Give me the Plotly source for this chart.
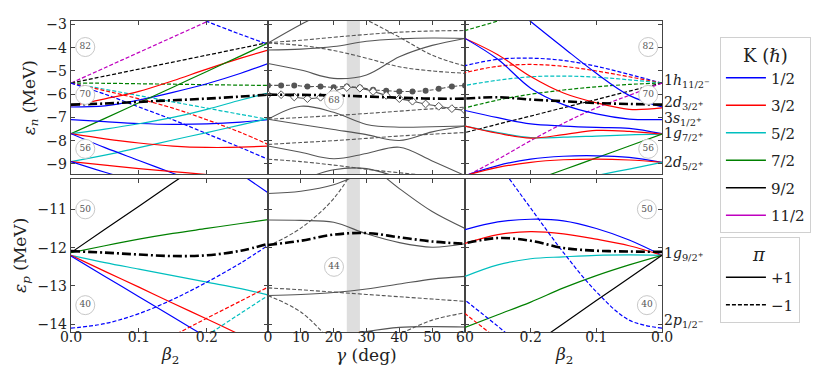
import plotly.graph_objects as go
from plotly.subplots import make_subplots

# sample grids
BETA_L = [0.0, 0.05, 0.10, 0.15, 0.20, 0.25, 0.29]
BETA_R = [0.0, 0.05, 0.10, 0.15, 0.20, 0.25, 0.30]
GAMMA = [0, 10, 20, 30, 40, 50, 60]

K_LABELS = ['1/2', '3/2', '5/2', '7/2', '9/2', '11/2']
K_COLORS = ['#0000ff', '#ff0000', '#00bfbf', '#008000', '#000000', '#bf00bf']
PARITY_LABELS = ['+1', '\u22121']

# neutron levels, prolate side: (K index, parity, energies on BETA_L)
NEUTRON_LEFT = [
    (5, -1, [-5.52, -4.86, -4.20, -3.54, -2.88, -2.22, -1.69]),
    (4, -1, [-5.52, -5.22, -4.92, -4.62, -4.32, -4.02, -3.78]),
    (3, -1, [-5.52, -5.53, -5.55, -5.57, -5.59, -5.61, -5.62]),
    (2, -1, [-5.52, -5.79, -6.06, -6.33, -6.60, -6.87, -7.08]),
    (1, -1, [-5.52, -5.85, -6.20, -6.60, -7.10, -7.65, -8.16]),
    (0, -1, [-5.52, -6.00, -6.55, -7.10, -7.70, -8.30, -8.80]),
    (0, -1, [-0.65, -1.20, -1.75, -2.30, -2.87, -3.43, -3.85]),
    (1, +1, [-6.50, -6.20, -5.88, -5.42, -4.92, -4.45, -4.10]),
    (0, +1, [-6.55, -6.50, -6.25, -5.92, -5.55, -5.10, -4.68]),
    (3, +1, [-7.70, -7.04, -6.37, -5.70, -5.02, -4.35, -3.80]),
    (0, +1, [-7.09, -7.18, -7.26, -7.30, -7.28, -7.20, -7.09]),
    (2, +1, [-7.70, -7.50, -7.27, -7.00, -6.65, -6.25, -5.95]),
    (2, +1, [-8.90, -8.62, -8.30, -7.97, -7.65, -7.32, -7.05]),
    (1, +1, [-7.70, -7.92, -8.10, -8.23, -8.29, -8.28, -8.23]),
    (0, +1, [-7.70, -8.30, -8.85, -9.40, -9.95, -10.5, -10.95]),
    (1, +1, [-8.90, -9.05, -9.20, -9.33, -9.46, -9.60, -9.70]),
    (0, +1, [-8.90, -9.36, -9.77, -10.2, -10.6, -11.0, -11.3]),
]
FERMI_N_LEFT = [-6.45, -6.40, -6.33, -6.26, -6.19, -6.10, -6.02]

# neutron levels, oblate side (energies on BETA_R)
NEUTRON_RIGHT = [
    (0, -1, [-5.52, -5.15, -4.80, -4.55, -4.45, -4.50, -4.77]),
    (1, -1, [-5.52, -5.25, -5.00, -4.80, -4.72, -4.80, -5.07]),
    (2, -1, [-5.52, -5.38, -5.27, -5.22, -5.25, -5.40, -5.62]),
    (3, -1, [-5.52, -5.58, -5.68, -5.82, -6.00, -6.25, -6.59]),
    (4, -1, [-5.52, -5.87, -6.23, -6.58, -6.94, -7.29, -7.65]),
    (5, -1, [-5.52, -6.05, -6.59, -7.25, -8.00, -8.80, -9.55]),
    (3, -1, [-0.50, -0.90, -1.40, -1.90, -2.40, -2.85, -3.26]),
    (0, +1, [-6.55, -6.05, -5.10, -4.00, -2.87, -1.70, -0.50]),
    (1, +1, [-6.59, -6.65, -6.37, -5.95, -5.24, -4.30, -3.60]),
    (0, +1, [-7.09, -7.07, -6.85, -6.45, -5.74, -4.50, -3.60]),
    (0, +1, [-7.70, -7.47, -7.43, -7.37, -7.28, -7.01, -6.70]),
    (2, +1, [-7.72, -7.75, -7.80, -7.85, -7.87, -7.65, -7.37]),
    (1, +1, [-7.72, -7.60, -7.56, -7.74, -7.89, -7.68, -7.37]),
    (3, +1, [-7.72, -8.23, -8.74, -9.25, -9.76, -10.27, -10.78]),
    (0, +1, [-8.93, -8.72, -8.65, -8.67, -8.79, -9.07, -9.50]),
    (1, +1, [-8.93, -8.83, -8.79, -8.82, -8.93, -9.15, -9.50]),
    (2, +1, [-8.93, -9.22, -9.50, -9.80, -10.1, -10.4, -10.7]),
]
FERMI_N_RIGHT = [-6.45, -6.42, -6.38, -6.30, -6.23, -6.13, -6.19]

# neutron levels along gamma: (parity, energies on GAMMA)
NEUTRON_GAMMA = [
    (+1, [-3.80, -3.00, -2.30, -1.60, -1.00, -0.50, 0.00]),
    (-1, [-0.60, -1.30, -2.05, -2.80, -3.54, -4.32, -4.79]),
    (-1, [-3.80, -3.90, -4.12, -4.45, -4.82, -5.00, -5.10]),
    (-1, [-3.78, -3.68, -3.55, -3.43, -3.33, -3.28, -3.26]),
    (+1, [-4.10, -4.06, -3.95, -3.72, -3.62, -3.58, -3.60]),
    (+1, [-4.68, -4.96, -5.32, -5.17, -4.39, -3.90, -3.60]),
    (+1, [-7.08, -6.52, -6.78, -7.30, -7.42, -7.40, -7.37]),
    (-1, [-7.08, -7.00, -6.92, -6.83, -6.73, -6.63, -6.56]),
    (+1, [-7.08, -7.30, -7.52, -7.74, -7.99, -7.62, -7.37]),
    (+1, [-8.23, -8.50, -8.78, -8.55, -8.28, -8.87, -9.50]),
    (-1, [-8.16, -8.08, -8.00, -7.90, -7.80, -7.72, -7.65]),
    (-1, [-8.80, -8.90, -9.05, -9.23, -9.38, -9.52, -9.65]),
    (+1, [-10.3, -9.70, -9.25, -9.20, -9.60, -10.0, -10.4]),
]
FERMI_N_GAMMA = [-6.02, -6.03, -6.05, -6.10, -6.15, -6.19, -6.19]

# tracked levels with markers
MARK_GAMMA = [0, 4, 8, 12, 16, 20, 24, 28, 32, 36, 40, 44, 48, 52, 56, 60]
DOTS_N = [-5.62, -5.62, -5.62, -5.67, -5.67, -5.70, -5.67, -5.71, -5.81,
          -5.85, -5.88, -5.88, -5.85, -5.77, -5.67, -5.62]
DIAMONDS_N = [-6.02, -6.02, -6.12, -6.19, -6.13, -5.88, -5.71, -5.74, -5.88,
              -6.05, -6.19, -6.30, -6.42, -6.52, -6.62, -6.70]

# proton levels
PROTON_LEFT = [
    (4, +1, [-12.13, -11.52, -10.92, -10.31, -9.71, -9.10, -8.62]),
    (3, +1, [-12.13, -11.95, -11.78, -11.63, -11.50, -11.37, -11.27]),
    (2, +1, [-12.20, -12.39, -12.56, -12.73, -12.90, -13.07, -13.23]),
    (1, +1, [-12.20, -12.62, -13.03, -13.45, -13.86, -14.28, -14.61]),
    (0, +1, [-12.22, -12.75, -13.28, -13.81, -14.34, -14.87, -15.30]),
    (0, -1, [-14.10, -13.98, -13.72, -13.35, -12.90, -12.40, -11.94]),
    (1, -1, [-15.70, -15.20, -14.76, -14.30, -13.84, -13.39, -13.03]),
    (2, -1, [-16.60, -16.00, -15.45, -14.87, -14.29, -13.71, -13.25]),
    (0, +1, [-7.00, -7.60, -8.20, -8.85, -9.46, -10.08, -10.57]),
]
FERMI_P_LEFT = [-12.09, -12.13, -12.18, -12.22, -12.20, -12.08, -11.90]

PROTON_GAMMA = [
    (+1, [-10.59, -10.53, -10.36, -10.00, -9.60, -9.20, -8.80]),
    (-1, [-11.96, -11.49, -10.72, -9.40, -8.00, -6.60, -5.20]),
    (+1, [-11.28, -11.29, -11.34, -11.64, -11.87, -11.99, -11.90]),
    (+1, [-8.50, -9.00, -9.40, -9.80, -10.46, -11.06, -11.50]),
    (+1, [-13.25, -13.22, -13.17, -13.08, -12.95, -12.82, -12.75]),
    (-1, [-13.05, -13.10, -13.16, -13.22, -13.28, -13.34, -13.40]),
    (-1, [-13.25, -13.68, -14.50, -15.30, -16.10, -16.90, -17.70]),
    (+1, [-14.60, -14.50, -14.35, -14.19, -14.08, -14.06, -14.07]),
    (-1, [-15.60, -15.30, -14.90, -14.60, -14.25, -13.89, -13.70]),
]
FERMI_P_GAMMA = [-11.93, -11.82, -11.66, -11.62, -11.73, -11.84, -11.90]

PROTON_RIGHT = [
    (0, +1, [-12.20, -11.80, -11.50, -11.30, -11.26, -11.33, -11.53]),
    (1, +1, [-12.20, -11.95, -11.78, -11.64, -11.58, -11.66, -11.89]),
    (2, +1, [-12.20, -12.19, -12.20, -12.24, -12.29, -12.45, -12.75]),
    (3, +1, [-12.20, -12.45, -12.73, -13.05, -13.42, -13.75, -14.08]),
    (4, +1, [-12.20, -12.79, -13.38, -13.98, -14.57, -15.16, -15.75]),
    (0, -1, [-14.10, -13.89, -13.15, -12.13, -10.97, -9.80, -8.70]),
    (0, -1, [-17.70, -17.00, -16.30, -15.50, -14.77, -14.05, -13.37]),
    (1, -1, [-17.70, -17.10, -16.40, -15.70, -15.06, -14.39, -13.72]),
]
FERMI_P_RIGHT = [-12.11, -12.10, -12.08, -12.01, -11.82, -11.75, -11.89]

# shell gaps (circled numbers)
GAP_N = ['82', '70', '56']
GAP_N_E = [-3.97, -6.03, -8.35]
GAP_P = ['50', '40']
GAP_P_E = [-11.0, -13.5]
GAP_MID = ['68', '44']
GAP_MID_E = [-6.26, -12.5]

# spherical orbitals on the right edge
ORBIT_N = ['1<i>h</i><sub>11/2<sup>\u2212</sup></sub>', '2<i>d</i><sub>3/2<sup>+</sup></sub>',
           '3<i>s</i><sub>1/2<sup>+</sup></sub>', '1<i>g</i><sub>7/2<sup>+</sup></sub>',
           '2<i>d</i><sub>5/2<sup>+</sup></sub>']
ORBIT_N_E = [-5.45, -6.38, -7.05, -7.73, -8.95]
ORBIT_P = ['1<i>g</i><sub>9/2<sup>+</sup></sub>', '2<i>p</i><sub>1/2<sup>\u2212</sup></sub>']
ORBIT_P_E = [-12.17, -13.92]

X_TITLES = ['<i>\u03b2</i><sub>2</sub>', '<i>\u03b3</i> (deg)', '<i>\u03b2</i><sub>2</sub>']

FONT = 'DejaVu Serif'
GREY = '#555555'
DASH = '4px,2px'

fig = make_subplots(rows=2, cols=3, horizontal_spacing=0, vertical_spacing=0.0136)


def add_levels(levels, xs, row, col):
    for k, par, ys in levels:
        fig.add_trace(go.Scatter(
            x=xs, y=ys, mode='lines', showlegend=False, hoverinfo='skip',
            line=dict(color=K_COLORS[k], width=1.2, shape='spline',
                      dash='solid' if par > 0 else DASH)), row=row, col=col)


def add_grey(levels, row, col):
    for par, ys in levels:
        fig.add_trace(go.Scatter(
            x=GAMMA, y=ys, mode='lines', showlegend=False, hoverinfo='skip',
            line=dict(color=GREY, width=1.1, shape='spline',
                      dash='solid' if par > 0 else DASH)), row=row, col=col)


def add_fermi(xs, ys, row, col):
    fig.add_trace(go.Scatter(
        x=xs, y=ys, mode='lines', showlegend=False, hoverinfo='skip',
        line=dict(color='black', width=2.6, shape='spline', dash='9px,3px,2px,3px')),
        row=row, col=col)


add_levels(NEUTRON_LEFT, BETA_L, 1, 1)
add_levels(NEUTRON_RIGHT, BETA_R, 1, 3)
add_grey(NEUTRON_GAMMA, 1, 2)
add_levels(PROTON_LEFT, BETA_L, 2, 1)
add_levels(PROTON_RIGHT, BETA_R, 2, 3)
add_grey(PROTON_GAMMA, 2, 2)

# tracked levels
fig.add_trace(go.Scatter(
    x=MARK_GAMMA, y=DOTS_N, mode='lines+markers', showlegend=False, hoverinfo='skip',
    line=dict(color=GREY, width=1.1, dash=DASH, shape='spline'),
    marker=dict(symbol='circle', size=6, color=GREY)), row=1, col=2)
fig.add_trace(go.Scatter(
    x=MARK_GAMMA, y=DIAMONDS_N, mode='lines+markers', showlegend=False, hoverinfo='skip',
    line=dict(color=GREY, width=1.1, shape='spline'),
    marker=dict(symbol='diamond', size=6, color='white', line=dict(color=GREY, width=1))),
    row=1, col=2)

add_fermi(BETA_L, FERMI_N_LEFT, 1, 1)
add_fermi(GAMMA, FERMI_N_GAMMA, 1, 2)
add_fermi(BETA_R, FERMI_N_RIGHT, 1, 3)
add_fermi(BETA_L, FERMI_P_LEFT, 2, 1)
add_fermi(GAMMA, FERMI_P_GAMMA, 2, 2)
add_fermi(BETA_R, FERMI_P_RIGHT, 2, 3)


def add_gaps(xpos, labels, energies, row, col):
    fig.add_trace(go.Scatter(
        x=[xpos] * len(labels), y=energies, mode='markers+text', text=labels,
        textposition='middle center', showlegend=False, hoverinfo='skip',
        textfont=dict(family=FONT, size=9, color='#555555'),
        marker=dict(symbol='circle', size=19, color='white',
                    line=dict(color='#c8c8c8', width=1))), row=row, col=col)


add_gaps(0.021, GAP_N, GAP_N_E, 1, 1)
add_gaps(0.021, GAP_N, GAP_N_E, 1, 3)
add_gaps(0.021, GAP_P, GAP_P_E, 2, 1)
add_gaps(0.023, GAP_P, GAP_P_E, 2, 3)
add_gaps(20.1, GAP_MID[:1], GAP_MID_E[:1], 1, 2)
add_gaps(20.1, GAP_MID[1:], GAP_MID_E[1:], 2, 2)

# legend entries (one group each, so tracegroupgap spaces them out)
for lab, col in zip(K_LABELS, K_COLORS):
    fig.add_trace(go.Scatter(x=[None], y=[None], mode='lines', name=lab, legendgroup=lab,
                             line=dict(color=col, width=1.5), legend='legend'),
                  row=1, col=1)
for lab, dash in zip(PARITY_LABELS, ['solid', DASH]):
    fig.add_trace(go.Scatter(x=[None], y=[None], mode='lines', name=lab, legendgroup='p' + lab,
                             line=dict(color='black', width=1.5, dash=dash),
                             legend='legend2'), row=1, col=1)

# gamma band behind the middle panels
for yref in ('y2 domain', 'y5 domain'):
    fig.add_shape(type='rect', xref=yref.replace('y', 'x').replace(' domain', ''),
                  yref=yref, x0=24, x1=28, y0=0, y1=1, fillcolor='#dedede',
                  line_width=0, layer='below')

axis_style = dict(showline=True, linecolor='#444444', linewidth=1.4, mirror='ticks',
                  ticks='inside', ticklen=4, tickcolor='#444444', showgrid=False,
                  zeroline=False, tickfont=dict(family=FONT, size=14, color='#222222'))

for i in range(1, 7):
    fig.update_xaxes(axis_style, row=(i - 1) // 3 + 1, col=(i - 1) % 3 + 1)
    fig.update_yaxes(axis_style, row=(i - 1) // 3 + 1, col=(i - 1) % 3 + 1)

for row in (1, 2):
    fig.update_xaxes(range=[0, 0.29], tickvals=[0, 0.1, 0.2], tickformat='.1f', row=row, col=1)
    fig.update_xaxes(range=[0, 60], tickvals=GAMMA, row=row, col=2)
    fig.update_xaxes(range=[0.30, 0], tickvals=[0.2, 0.1, 0], tickformat='.1f', row=row, col=3)
    for col in (1, 2, 3):
        fig.update_xaxes(showticklabels=(row == 2), ticklabelstandoff=-8, row=row, col=col)
        fig.update_yaxes(showticklabels=(col == 1), row=row, col=col)
        if row == 1:
            fig.update_yaxes(range=[-9.45, -2.85], tickvals=[-9, -8, -7, -6, -5, -4, -3],
                             row=row, col=col)
        else:
            fig.update_yaxes(range=[-14.2, -10.2], tickvals=[-14, -13, -12, -11],
                             row=row, col=col)

title_font = dict(family=FONT, size=17, color='#222222')
fig.update_yaxes(title=dict(text='<i>\u03b5</i><sub><i>n</i></sub> (MeV)', font=title_font, standoff=6),
                 row=1, col=1)
fig.update_yaxes(title=dict(text='<i>\u03b5</i><sub><i>p</i></sub> (MeV)', font=title_font, standoff=6),
                 row=2, col=1)

for i, txt in enumerate(X_TITLES):
    fig.add_annotation(text=txt, xref='x%d domain' % (i + 4), yref='paper', x=0.5, y=-0.074,
                       xanchor='center', yanchor='middle', showarrow=False, font=title_font)

for txt, e in zip(ORBIT_N, ORBIT_N_E):
    fig.add_annotation(text=txt, xref='x3 domain', yref='y3', x=1.0, y=e,
                       xanchor='left', yanchor='middle', showarrow=False,
                       font=dict(family=FONT, size=14, color='#222222'))
for txt, e in zip(ORBIT_P, ORBIT_P_E):
    fig.add_annotation(text=txt, xref='x6 domain', yref='y6', x=1.0, y=e,
                       xanchor='left', yanchor='middle', showarrow=False,
                       font=dict(family=FONT, size=14, color='#222222'))

legend_style = dict(xanchor='left', yanchor='top', bgcolor='white', bordercolor='#d0d0d0',
                    borderwidth=1, font=dict(family=FONT, size=15, color='#222222'),
                    itemwidth=40, tracegroupgap=5)
fig.update_layout(
    width=831, height=370,
    margin=dict(l=63, r=177, t=8, b=46),
    paper_bgcolor='white', plot_bgcolor='white',
    font=dict(family=FONT),
    legend=dict(legend_style, x=1.098, y=0.948,
                title=dict(text='K (<i>\u210f</i>)', side='top center')),
    legend2=dict(legend_style, x=1.098, y=0.307,
                 title=dict(text='<i>\u03c0</i>', side='top center')),
)

fig.write_html('out.html')
